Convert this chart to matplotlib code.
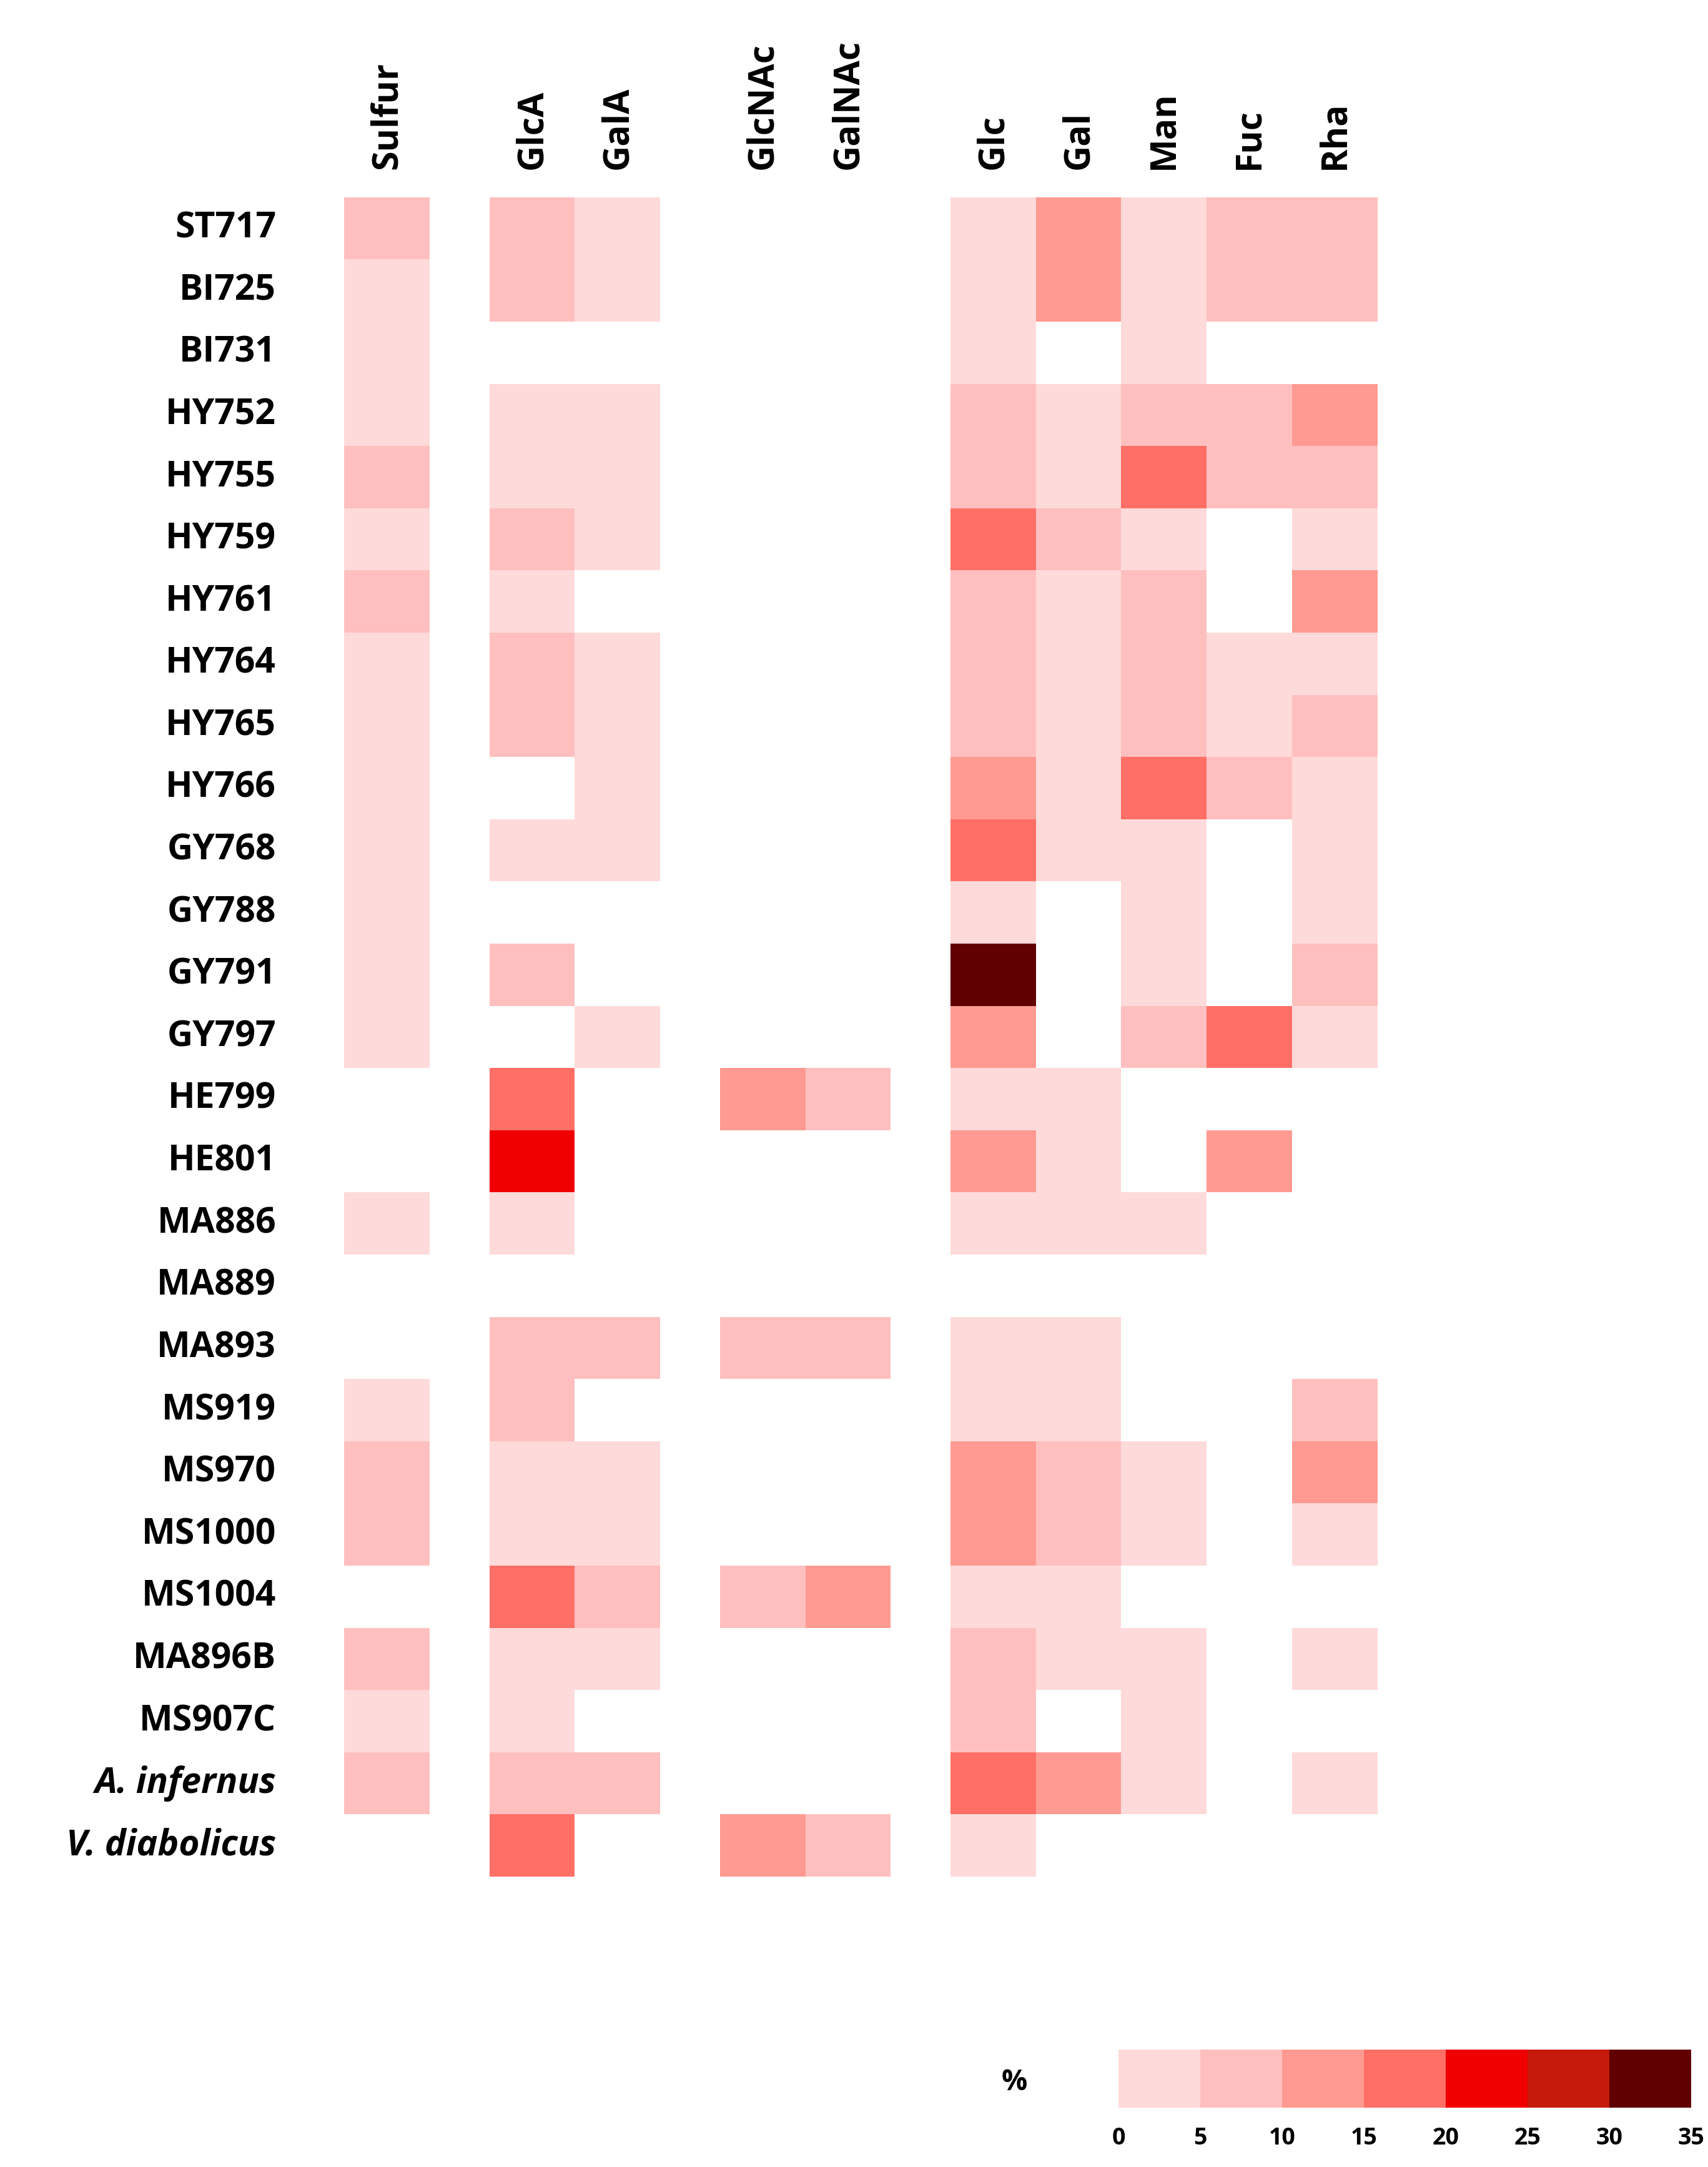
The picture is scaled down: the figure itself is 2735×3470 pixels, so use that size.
import matplotlib
matplotlib.use("Agg")
import matplotlib.pyplot as plt
import numpy as np
from matplotlib.colors import ListedColormap, BoundaryNorm

# data: percentage per strain and component (0 = not detected)
strains = ["ST717", "BI725", "BI731", "HY752", "HY755", "HY759", "HY761", "HY764",
           "HY765", "HY766", "GY768", "GY788", "GY791", "GY797", "HE799", "HE801",
           "MA886", "MA889", "MA893", "MS919", "MS970", "MS1000", "MS1004",
           "MA896B", "MS907C", "A. infernus", "V. diabolicus"]
components = ["Sulfur", "GlcA", "GalA", "GlcNAc", "GalNAc", "Glc", "Gal", "Man", "Fuc", "Rha"]
groups = [1, 2, 2, 3, 3, 4, 4, 4, 4, 4]

sulfur = [7, 3, 3, 3, 7, 3, 7, 3, 3, 3, 3, 3, 3, 3, 0, 0, 3, 0, 0, 3, 7, 7, 0, 7, 3, 7, 0]
glca = [7, 7, 0, 3, 3, 7, 3, 7, 7, 0, 3, 0, 7, 0, 18, 23, 3, 0, 7, 7, 3, 3, 18, 3, 3, 7, 18]
gala = [3, 3, 0, 3, 3, 3, 0, 3, 3, 3, 3, 0, 0, 3, 0, 0, 0, 0, 7, 0, 3, 3, 7, 3, 0, 7, 0]
glcnac = [0] * 14 + [13, 0, 0, 0, 7, 0, 0, 0, 7, 0, 0, 0, 13]
galnac = [0] * 14 + [7, 0, 0, 0, 7, 0, 0, 0, 13, 0, 0, 0, 7]
glc = [3, 3, 3, 7, 7, 18, 7, 7, 7, 13, 18, 3, 33, 13, 3, 13, 3, 0, 3, 3, 13, 13, 3, 7, 7, 18, 3]
gal = [13, 13, 0, 3, 3, 7, 3, 3, 3, 3, 3, 0, 0, 0, 3, 3, 3, 0, 3, 3, 7, 7, 3, 3, 0, 13, 0]
man = [3, 3, 3, 7, 18, 3, 7, 7, 7, 18, 3, 3, 3, 7, 0, 0, 3, 0, 0, 0, 3, 3, 0, 3, 3, 3, 0]
fuc = [7, 7, 0, 7, 7, 0, 0, 3, 3, 7, 0, 0, 0, 18, 0, 13, 0, 0, 0, 0, 0, 0, 0, 0, 0, 0, 0]
rha = [7, 7, 0, 13, 7, 3, 13, 3, 7, 3, 3, 3, 7, 3, 0, 0, 0, 0, 0, 7, 13, 3, 0, 3, 0, 3, 0]

bounds = [0, 5, 10, 15, 20, 25, 30, 35]
colors = ["#FFDADA", "#FFBFBF", "#FF9A92", "#FF6F66", "#F00000", "#C51A0C", "#600000"]

cmap = ListedColormap(colors)
norm = BoundaryNorm(bounds, cmap.N)

data = np.array([sulfur, glca, gala, glcnac, galnac, glc, gal, man, fuc, rha], dtype=float).T
data = np.ma.masked_equal(data, 0)

fig = plt.figure(figsize=(27.35, 34.7), dpi=100)
plt.rcParams['font.family'] = ['Open Sans', 'DejaVu Sans']

ax = fig.add_axes([0.2016, 0.134, 0.6048, 0.775])

# column positions with gaps between groups
gap = 0.7
lefts = []
x = 0.0
for j, g in enumerate(groups):
    if j > 0 and g != groups[j - 1]:
        x += gap
    lefts.append(x)
    x += 1.0

n = len(strains)
yedges = np.arange(n + 1)
for j in range(len(components)):
    ax.pcolormesh([lefts[j], lefts[j] + 1], yedges, data[:, j:j + 1], cmap=cmap, norm=norm)
    ax.text(lefts[j] + 0.5, -0.45, components[j], rotation=90, ha="center", va="bottom",
            fontsize=41, fontweight="bold")

for i, s in enumerate(strains):
    style = "italic" if s.startswith(("A.", "V.")) else "normal"
    ax.text(-0.8, i + 0.5, s, ha="right", va="center", fontsize=41,
            fontweight="bold", fontstyle=style)

ax.set_xlim(0, x)
ax.set_ylim(n, 0)
ax.axis("off")

# colour key
cax = fig.add_axes([0.655, 0.0274, 0.335, 0.0268])
cax.imshow([np.arange(len(colors))], cmap=ListedColormap(colors), aspect="auto",
           extent=[0, 35, 0, 1])
cax.set_xlim(0, 35)
cax.set_yticks([])
cax.set_xticks(bounds)
cax.set_xticklabels([str(b) for b in bounds], fontsize=27, fontweight="bold")
cax.tick_params(length=0, pad=22)
for sp in cax.spines.values():
    sp.set_visible(False)
fig.text(0.594, 0.039, "%", ha="center", va="center", fontsize=33, fontweight="bold")

fig.savefig("out.png", dpi=100, facecolor="white")
